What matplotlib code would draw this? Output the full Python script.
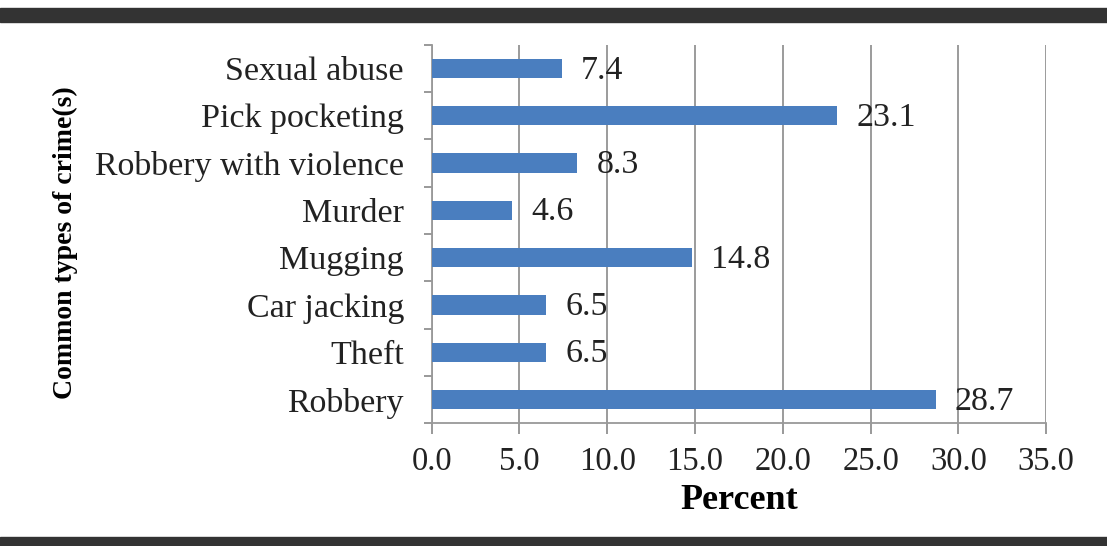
import matplotlib.pyplot as plt
from matplotlib.patches import Rectangle

crimes = ['Robbery', 'Theft', 'Car jacking', 'Mugging', 'Murder',
          'Robbery with violence', 'Pick pocketing', 'Sexual abuse']
percent = [28.7, 6.5, 6.5, 14.8, 4.6, 8.3, 23.1, 7.4]
xticks = [0, 5, 10, 15, 20, 25, 30, 35]

plt.rcParams['font.family'] = ['Liberation Serif', 'DejaVu Serif']

fig = plt.figure(figsize=(11.07, 5.46), dpi=100)
ax = fig.add_axes([0.390, 0.225, 0.555, 0.693])

pos = list(range(len(crimes)))
ax.barh(pos, percent, height=0.41, color='#4A7EBF', zorder=3)
for p, v in zip(pos, percent):
    ax.text(v + 1.1, p - 0.04, '%.1f' % v, va='center', ha='left', fontsize=24.5,
            color='#222222', zorder=4)

ax.set_xlim(0, 35)
ax.set_ylim(-0.5, 7.5)
ax.set_xticks(xticks)
ax.set_xticklabels(['%.1f' % t for t in xticks], fontsize=23.5, color='#222222')
ax.set_yticks(pos)
ax.set_yticklabels(crimes, fontsize=24.5, color='#222222')
ax.set_yticks([p - 0.5 for p in pos] + [7.5], minor=True)

ax.tick_params(axis='y', which='major', length=0, pad=20)
ax.tick_params(axis='y', which='minor', length=6, width=1.2, color='#888888', direction='out')
ax.tick_params(axis='x', length=8, width=1.2, color='#888888', pad=9)

ax.grid(axis='x', color='#8a8a8a', linewidth=1.2, zorder=0)
for s in ['top', 'right']:
    ax.spines[s].set_visible(False)
for s in ['left', 'bottom']:
    ax.spines[s].set_color('#999999')
    ax.spines[s].set_linewidth(1.3)

ax.set_xlabel('Percent', fontsize=26, fontweight='bold', labelpad=5)
fig.text(0.059, 0.555, 'Common types of crime(s)', rotation=90, fontsize=20,
         fontweight='bold', ha='center', va='center')

# dark bands at top and bottom
fig.patches.append(Rectangle((0, 0.960), 1, 0.025, transform=fig.transFigure,
                             color='#333333', zorder=0))
fig.patches.append(Rectangle((0, 0), 1, 0.016, transform=fig.transFigure,
                             color='#333333', zorder=0))

fig.savefig('out.png', dpi=100)
